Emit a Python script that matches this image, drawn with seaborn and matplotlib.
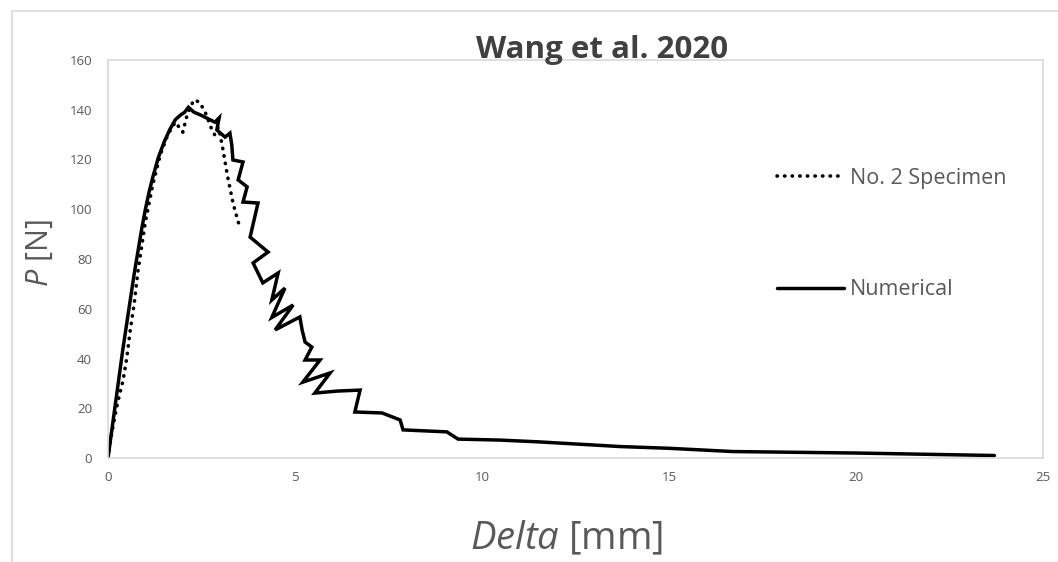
import matplotlib
matplotlib.use("Agg")
import matplotlib.pyplot as plt
from matplotlib.lines import Line2D
import seaborn as sns
import pandas as pd

# Load-displacement curves
specimen_label = "No. 2 Specimen"
specimen_delta = [0.0, 0.1, 0.2, 0.3, 0.4, 0.5, 0.6, 0.7, 0.8, 0.9, 1.0, 1.2, 1.4, 1.6,
                  1.8, 1.9, 2.0, 2.1, 2.2, 2.3, 2.45, 2.6, 2.75, 2.85, 2.95, 3.05, 3.2,
                  3.35, 3.5, 3.55]
specimen_load = [0, 10, 18, 25, 31, 40, 52, 62, 75, 85, 95, 110, 122, 130,
                 135, 133, 131, 137, 141, 144, 143, 139, 133, 130, 133, 126, 113,
                 102, 94, 93]

numerical_label = "Numerical"
numerical_delta = [0.0, 0.1, 0.2, 0.3, 0.4, 0.5, 0.6, 0.7, 0.8, 0.9, 1.0, 1.1, 1.2, 1.35,
                   1.5, 1.65, 1.8, 1.95, 2.05, 2.15, 2.3, 2.46, 2.86, 2.97, 2.91, 3.13,
                   3.26, 3.31, 3.34, 3.61, 3.48, 3.72, 3.61, 4.01, 3.8, 4.28, 3.88, 4.14,
                   4.55, 4.38, 4.73, 4.38, 4.95, 4.47, 5.13, 5.19, 5.27, 5.45, 5.27, 5.67,
                   5.21, 5.94, 5.53, 6.12, 6.74, 6.6, 7.33, 7.81, 7.89, 9.06, 9.36, 10.48,
                   11.5, 13.7, 15.0, 16.7, 20.0, 23.7]
numerical_load = [0, 11, 22, 33, 44, 54, 64, 74, 83, 92, 100, 107, 113, 121,
                  127, 132, 136, 138, 139, 141, 139, 138, 135, 136.7, 131.9, 129,
                  130.6, 125.8, 119.8, 119, 111.8, 109, 102.9, 102.5, 88.8, 82.8, 78.4, 70.4,
                  74.4, 63.5, 68.3, 56.5, 61.5, 51.5, 56.7, 51.5, 46.6, 44.6, 39.4, 39.4,
                  30.5, 34.2, 26.1, 26.9, 27.3, 18.5, 18.1, 15.3, 11.3, 10.5, 7.6, 7.2,
                  6.5, 4.6, 3.9, 2.6, 2.0, 1.0]

x_ticks = [0, 5, 10, 15, 20, 25]
y_ticks = [0, 20, 40, 60, 80, 100, 120, 140, 160]
title_text = "Wang et al. 2020"

sns.set_theme(style="white")
plt.rcParams["font.family"] = ["Open Sans", "DejaVu Sans"]
plt.rcParams["mathtext.fontset"] = "custom"
plt.rcParams["mathtext.rm"] = "Open Sans"
plt.rcParams["mathtext.it"] = "Open Sans:italic"

W, H = 1058, 562
fig = plt.figure(figsize=(W / 100, H / 100), dpi=100)
ax = fig.add_axes([108 / W, 1 - 458 / H, (1043 - 108) / W, (458 - 60) / H])

grey_frame = "#d9d9d9"
text_grey = "#595959"

df_spec = pd.DataFrame({"delta": specimen_delta, "load": specimen_load})
df_num = pd.DataFrame({"delta": numerical_delta, "load": numerical_load})

sns.lineplot(data=df_spec, x="delta", y="load", ax=ax, sort=False, estimator=None,
             color="black", lw=2.6, linestyle=(0, (0.1, 2.0)),
             dash_capstyle="round", label=specimen_label)
sns.lineplot(data=df_num, x="delta", y="load", ax=ax, sort=False, estimator=None,
             color="black", lw=2.5, solid_joinstyle="miter", label=numerical_label)

ax.set_xlim(0, 25)
ax.set_ylim(0, 160)
ax.set_xticks(x_ticks)
ax.set_yticks(y_ticks)
ax.tick_params(axis="both", length=0, labelsize=9.5, labelcolor=text_grey)
ax.tick_params(axis="x", pad=9.5)
ax.tick_params(axis="y", pad=11.5)
for sp in ax.spines.values():
    sp.set_visible(True)
    sp.set_color(grey_frame)
    sp.set_linewidth(1.2)

ax.set_xlabel(r"$\mathit{Delta}$ [mm]", fontsize=27.5, color=text_grey)
ax.xaxis.set_label_coords((567 - 108) / 935, -(520 - 458) / 398)
ax.set_ylabel(r"$\mathit{P}$ [N]", fontsize=22, color=text_grey)
ax.yaxis.label.set_va("center")
ax.yaxis.set_label_coords(-(108 - 40) / 935, (458 - 253) / 398)

fig.text(602 / W, 1 - 58 / H, title_text, ha="center", va="baseline",
         fontsize=22.5, fontweight="bold", color="#404040")

leg = ax.legend(loc="upper left", bbox_to_anchor=(777 / W, 1 - 168 / H),
                bbox_transform=fig.transFigure, frameon=False, fontsize=15.5,
                handlelength=3.1, handletextpad=0.28, labelspacing=4.2,
                borderpad=0, borderaxespad=0)
for t in leg.get_texts():
    t.set_color(text_grey)

# outer chart-area border
fig.add_artist(Line2D([12 / W, 12 / W], [0, 1 - 11 / H], transform=fig.transFigure,
                      color=grey_frame, lw=1.2))
fig.add_artist(Line2D([12 / W, 1], [1 - 11 / H, 1 - 11 / H], transform=fig.transFigure,
                      color=grey_frame, lw=1.2))

fig.savefig("out.png", dpi=100, facecolor="white")
